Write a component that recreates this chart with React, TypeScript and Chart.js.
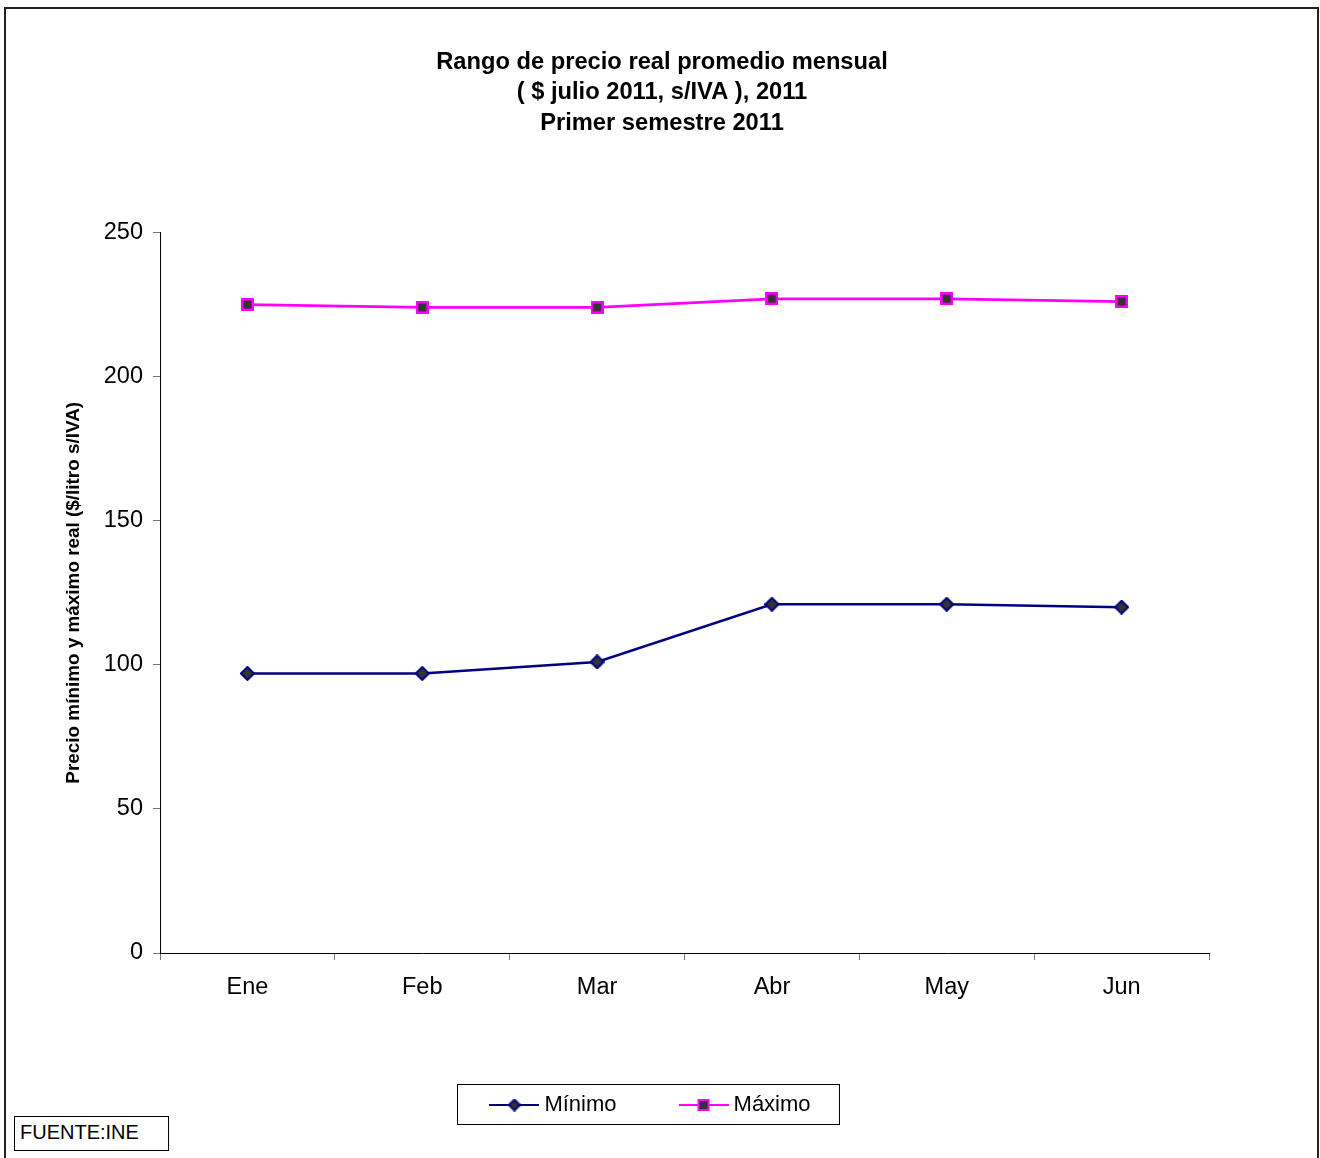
import React, { useEffect, useRef } from 'react';
import { Chart, registerables } from 'chart.js';

Chart.register(...registerables);

const months = ['Ene', 'Feb', 'Mar', 'Abr', 'May', 'Jun'];
const minimo = [97, 97, 101, 121, 121, 120];
const maximo = [225, 224, 224, 227, 227, 226];
const seriesNames = ['Mínimo', 'Máximo'];
const titleLines = [
  'Rango de precio real promedio mensual',
  '( $ julio 2011, s/IVA ), 2011',
  'Primer semestre 2011',
];
const yAxisTitle = 'Precio mínimo y máximo real ($/litro s/IVA)';
const yMin = 0;
const yMax = 250;
const yStep = 50;
const sourceNote = 'FUENTE:INE';

const NAVY = '#000080';
const MAGENTA = '#FF00FF';
const DARK = '#333333';
const FONT = '"Liberation Sans", Arial, Helvetica, sans-serif';

function makeDiamond(w: number, h: number): HTMLCanvasElement {
  const c = document.createElement('canvas');
  c.width = w;
  c.height = h;
  const ctx = c.getContext('2d')!;
  ctx.beginPath();
  ctx.moveTo(w / 2, 1);
  ctx.lineTo(w - 1, h / 2);
  ctx.lineTo(w / 2, h - 1);
  ctx.lineTo(1, h / 2);
  ctx.closePath();
  ctx.fillStyle = DARK;
  ctx.fill();
  ctx.lineWidth = 2;
  ctx.strokeStyle = NAVY;
  ctx.stroke();
  return c;
}

function makeSquare(w: number, h: number, b: number): HTMLCanvasElement {
  const c = document.createElement('canvas');
  c.width = w;
  c.height = h;
  const ctx = c.getContext('2d')!;
  ctx.fillStyle = MAGENTA;
  ctx.fillRect(0, 0, w, h);
  ctx.fillStyle = DARK;
  ctx.fillRect(b, b, w - 2 * b, h - 2 * b);
  return c;
}

function makeLegendSymbol(color: string, marker: HTMLCanvasElement): HTMLCanvasElement {
  const w = 50;
  const h = 16;
  const c = document.createElement('canvas');
  c.width = w;
  c.height = h;
  const ctx = c.getContext('2d')!;
  ctx.strokeStyle = color;
  ctx.lineWidth = 2;
  ctx.beginPath();
  ctx.moveTo(0, h / 2);
  ctx.lineTo(w, h / 2);
  ctx.stroke();
  ctx.drawImage(marker, (w - marker.width) / 2, (h - marker.height) / 2);
  return c;
}

const LEGEND_PAD = 68;

const framePlugin = {
  id: 'framePlugin',
  afterLayout(chart: any) {
    const lg = chart.legend;
    if (lg) {
      const h = lg.bottom - lg.top;
      lg.left = 653 - 400;
      lg.right = 653 + 400;
      lg.width = 800;
      lg.top = 1104 - LEGEND_PAD - 10;
      lg.bottom = lg.top + h;
    }
    const t = chart.titleBlock;
    if (t) {
      t.left = 662 - 620;
      t.right = 662 + 620;
      t.width = 1240;
    }
  },
  afterDraw(chart: any) {
    const ctx = chart.ctx;
    ctx.save();
    // outer frame
    ctx.strokeStyle = '#222';
    ctx.lineWidth = 2;
    ctx.strokeRect(5, 8, 1313, 1160);
    // legend box
    const lg = chart.legend;
    if (lg && lg.legendHitBoxes && lg.legendHitBoxes.length) {
      const hb = lg.legendHitBoxes;
      let l = Infinity, r = -Infinity, cy = 0;
      hb.forEach((b: any) => {
        l = Math.min(l, b.left);
        r = Math.max(r, b.left + b.width);
        cy = b.top + b.height / 2;
      });
      ctx.strokeStyle = '#000';
      ctx.lineWidth = 1;
      ctx.strokeRect(Math.round(l - 38) + 0.5, Math.round(cy - 21) + 0.5, Math.round(r - l + 67), 40);
    }
    ctx.restore();
  },
};

export default function App() {
  const ref = useRef<HTMLCanvasElement | null>(null);

  useEffect(() => {
    if (!ref.current) return;
    const diamond = makeDiamond(15, 15);
    const square = makeSquare(13, 13, 2.5);
    const legendDiamond = makeLegendSymbol(NAVY, makeDiamond(13, 13));
    const legendSquare = makeLegendSymbol(MAGENTA, makeSquare(12, 12, 2));
    const legendImgs = [legendDiamond, legendSquare];

    const chart = new Chart(ref.current, {
      type: 'line',
      data: {
        labels: months,
        datasets: [
          {
            label: seriesNames[0],
            data: minimo,
            borderColor: NAVY,
            backgroundColor: NAVY,
            borderWidth: 2.5,
            pointStyle: diamond as any,
            pointRadius: 7,
            tension: 0,
          },
          {
            label: seriesNames[1],
            data: maximo,
            borderColor: MAGENTA,
            backgroundColor: MAGENTA,
            borderWidth: 2.8,
            pointStyle: square as any,
            pointRadius: 7,
            tension: 0,
          },
        ],
      },
      options: {
        responsive: false,
        animation: false,
        devicePixelRatio: 1,
        layout: { padding: { left: 0, right: 111, top: 0, bottom: 55 } },
        plugins: {
          title: {
            display: true,
            text: titleLines,
            color: '#000',
            font: { family: FONT, size: 23.7, weight: 'bold', lineHeight: 1.287 },
            padding: { top: 47, bottom: 94 },
          },
          legend: {
            display: true,
            position: 'bottom',
            labels: {
              usePointStyle: true,
              pointStyleWidth: 38,
              padding: LEGEND_PAD,
              color: '#000',
              font: { family: FONT, size: 22 },
              generateLabels: () =>
                seriesNames.map((t, i) => ({
                  text: t,
                  pointStyle: legendImgs[i] as any,
                  datasetIndex: i,
                  fillStyle: i === 0 ? NAVY : MAGENTA,
                  strokeStyle: i === 0 ? NAVY : MAGENTA,
                  lineWidth: 0,
                  hidden: false,
                  fontColor: '#000',
                })),
            },
          },
          tooltip: { enabled: false },
        },
        scales: {
          x: {
            type: 'category',
            offset: true,
            grid: {
              offset: true,
              drawOnChartArea: false,
              drawTicks: true,
              tickLength: 7,
              color: '#777',
              lineWidth: 1,
            },
            border: { display: true, color: '#000', width: 1 },
            ticks: {
              color: '#000',
              font: { family: FONT, size: 23.5 },
              padding: 13,
              maxRotation: 0,
            },
            afterFit: (scale: any) => {
              scale.height = 50;
            },
          },
          y: {
            min: yMin,
            max: yMax,
            grid: {
              drawOnChartArea: false,
              drawTicks: true,
              tickLength: 7,
              color: '#777',
              lineWidth: 1,
            },
            border: { display: true, color: '#000', width: 1 },
            ticks: {
              stepSize: yStep,
              color: '#000',
              font: { family: FONT, size: 23.5 },
              padding: 10,
            },
            title: {
              display: true,
              text: yAxisTitle,
              color: '#000',
              font: { family: FONT, size: 18.9, weight: 'bold' },
              padding: { top: 62, bottom: 0 },
            },
            afterFit: (scale: any) => {
              scale.width = 160;
            },
          },
        },
      },
      plugins: [framePlugin],
    });
    return () => chart.destroy();
  }, []);

  return (
    <div style={{ position: 'absolute', left: 0, top: 0, width: 1320, height: 1158 }}>
      <canvas ref={ref} width={1320} height={1158} style={{ width: 1320, height: 1158, display: 'block' }} />
      <div
        style={{
          position: 'absolute',
          left: 14,
          top: 1116,
          width: 155,
          height: 35,
          boxSizing: 'border-box',
          border: '1.5px solid #000',
          fontFamily: FONT,
          fontSize: 20,
          lineHeight: '30px',
          paddingLeft: 5,
          color: '#000',
          background: '#fff',
        }}
      >
        {sourceNote}
      </div>
    </div>
  );
}
